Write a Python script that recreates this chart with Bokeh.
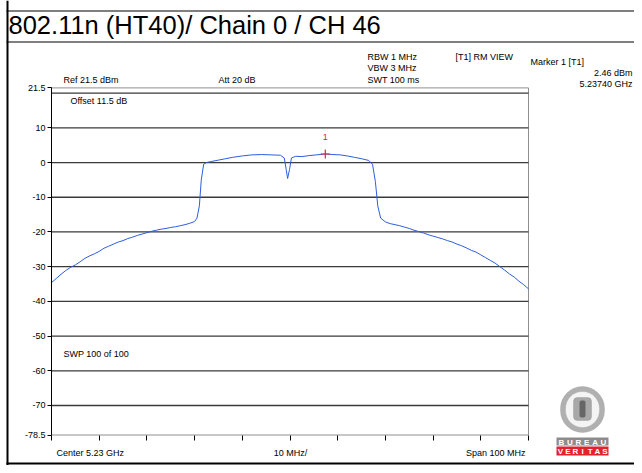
from bokeh.plotting import figure
from bokeh.models import Label, BoxAnnotation, Range1d, FixedTicker
from bokeh.core.properties import value
from bokeh.embed import file_html
from bokeh.resources import INLINE

# ---------------- data ----------------
freq_mhz_offset = [0, 1, 2, 3, 4, 5, 6, 7, 8, 9, 10, 11, 12, 13, 14, 15, 16, 17, 18, 19, 20,
                   21, 22, 23, 24, 25, 26, 27, 28, 29, 30, 30.5, 31.0, 31.4, 31.9, 32.5, 33.5,
                   35, 36.5, 38, 40, 42, 44, 46, 48, 48.8, 49.2, 49.5, 49.9, 50.3, 51.2, 52.5,
                   54, 55.5, 57.4, 59, 60.5, 62, 63.5, 65, 66.5, 67.3, 67.9, 68.4, 69.0, 70,
                   71, 72, 73, 74, 75, 76, 77, 78, 79, 80, 81, 82, 83, 84, 85, 86, 87, 88, 89,
                   90, 91, 92, 93, 94, 95, 96, 97, 98, 99, 100]
level_dbm = [-34.6, -33.4, -32.2, -31.1, -30.2, -29.5, -28.6, -27.6, -26.9, -26.3, -25.6, -24.7,
             -24.1, -23.5, -22.9, -22.5, -21.9, -21.5, -21.0, -20.6, -20.2, -19.8, -19.5, -19.2,
             -19.0, -18.7, -18.5, -18.2, -17.9, -17.5, -17.0, -16.0, -12.5, -5.0, -0.5, 0.0,
             0.3, 0.7, 1.1, 1.5, 1.9, 2.2, 2.3, 2.2, 2.1, 1.3, -2.0, -4.6, -2.0, 1.3, 1.8, 1.7,
             2.0, 2.2, 2.46, 2.3, 2.2, 1.9, 1.5, 1.1, 0.6, -0.5, -5.5, -12.5, -16.0, -17.1,
             -17.6, -17.9, -18.2, -18.6, -19.0, -19.5, -19.9, -20.3, -20.8, -21.2, -21.6, -22.0,
             -22.5, -22.9, -23.5, -24.0, -24.6, -25.3, -25.8, -26.6, -27.4, -28.2, -29.0, -30.0,
             -31.0, -32.1, -33.0, -34.2, -35.2, -36.4]
start_ghz = 5.18
stop_ghz = 5.28
freq_ghz = [start_ghz + f / 1000.0 for f in freq_mhz_offset]

marker_freq_ghz = [5.2374]
marker_level = [2.46]
marker_name = ["1"]

ref_level = 21.5
bottom_level = -78.5
y_ticks = [21.5, 10, 0, -10, -20, -30, -40, -50, -60, -70, -78.5]
y_tick_labels = ["21.5", "10", "0", "-10", "-20", "-30", "-40", "-50", "-60", "-70", "-78.5"]
y_grid = [20, 10, 0, -10, -20, -30, -40, -50, -60, -70]
x_ticks = [5.18, 5.19, 5.20, 5.21, 5.22, 5.23, 5.24, 5.25, 5.26, 5.27, 5.28]

title_text = "802.11n (HT40)/ Chain 0 / CH 46"

# ---------------- layout (pixels) ----------------
W, H = 634, 465
PL, PR, PT, PB = 51, 528, 87.4, 434.5   # plot area in canvas pixels
FONT = "Liberation Sans"

gx = (stop_ghz - start_ghz) / (PR - PL)
gy = (ref_level - bottom_level) / (PB - PT)
x_range = Range1d(start_ghz - PL * gx, stop_ghz + (W - PR) * gx)
y_range = Range1d(bottom_level - (H - PB) * gy, ref_level + PT * gy)

p = figure(width=W, height=H, output_backend="svg", toolbar_location=None,
           x_range=x_range, y_range=y_range,
           min_border_left=0, min_border_right=0, min_border_top=0, min_border_bottom=0)
p.background_fill_color = "white"
p.border_fill_color = "white"
p.outline_line_color = None
p.xgrid.visible = False
p.ygrid.visible = False

# y axis
p.yaxis.fixed_location = start_ghz
p.yaxis.bounds = (bottom_level, ref_level)
p.yaxis.ticker = FixedTicker(ticks=y_ticks)
p.yaxis.major_label_overrides = {t: s for t, s in zip(y_ticks, y_tick_labels)}
p.yaxis.axis_line_color = "black"
p.yaxis.major_tick_line_color = "black"
p.yaxis.major_tick_in = 0
p.yaxis.major_tick_out = 4
p.yaxis.minor_tick_line_color = None
p.yaxis.major_label_text_font = FONT
p.yaxis.major_label_text_font_size = "9px"
p.yaxis.major_label_text_color = "black"
p.yaxis.major_label_standoff = 2

# x axis
p.xaxis.fixed_location = bottom_level
p.xaxis.bounds = (start_ghz, stop_ghz)
p.xaxis.ticker = FixedTicker(ticks=x_ticks)
p.xaxis.axis_line_color = None
p.xaxis.major_tick_line_color = "black"
p.xaxis.major_tick_in = 0
p.xaxis.major_tick_out = 5
p.xaxis.minor_tick_line_color = None
p.xaxis.major_label_text_color = None
p.xaxis.major_label_text_font_size = "1px"

# plot area border and grid lines
p.quad(left=[start_ghz], right=[stop_ghz], bottom=[bottom_level], top=[ref_level],
       fill_color=None, line_color="#8f8f8f", line_width=1)
p.segment(x0=[start_ghz] * len(y_grid), x1=[stop_ghz] * len(y_grid), y0=y_grid, y1=y_grid,
          line_color="#3a3a3a", line_width=1.3)

# trace and marker
p.line(freq_ghz, level_dbm, line_color="#2f5ce0", line_width=1)
p.scatter(marker_freq_ghz, marker_level, marker="cross", size=9, line_color="#e8202a", line_width=1.2)
p.text(marker_freq_ghz, marker_level, text=marker_name, text_color="#e8202a",
       text_font=value(FONT), text_font_size="9px", text_align="center",
       text_baseline="bottom", y_offset=-14)


def lab(text, x, y, size="9px", align="left", color="black", font=FONT, style="normal"):
    p.add_layout(Label(x=x, y=y, x_units="canvas", y_units="canvas", text=text,
                       text_font=font, text_font_size=size, text_align=align,
                       text_baseline="middle", text_color=color, text_font_style=style,
                       level="overlay"))


def box(l, r, t, b, fill=None, line=None, lw=1, radius=0):
    p.add_layout(BoxAnnotation(left=l, right=r, top=t, bottom=b,
                               left_units="canvas", right_units="canvas",
                               top_units="canvas", bottom_units="canvas",
                               fill_color=fill, fill_alpha=1.0 if fill else 0,
                               line_color=line, line_width=lw, border_radius=radius,
                               level="annotation"))

# outer frame lines
box(6, 8, 0, 465, fill="black")
box(6, 634, 462, 464, fill="black")
box(6, 634, 10, 11, fill="black")
box(6, 634, 41, 42, fill="black")

lab(title_text, 8, 24.5, size="25.5px")

lab("Ref 21.5 dBm", 63, 79)
lab("Att  20 dB", 218, 79)
lab("RBW 1 MHz", 367, 56)
lab("VBW 3 MHz", 367, 67)
lab("SWT 100 ms", 367, 79)
lab("[T1] RM VIEW", 455, 56)
lab("Marker 1 [T1]", 530, 61)
lab("2.46 dBm", 632, 72, align="right")
lab("5.23740 GHz", 632, 83, align="right")
lab("Offset 11.5 dB", 70, 100)
lab("SWP 100 of 100", 63, 353)
lab("Center 5.23 GHz", 56, 452)
lab("10 MHz/", 290, 452, align="center")
lab("Span 100 MHz", 525, 452, align="right")

# logo
box(560, 604, 386, 432, fill="#b0b0b0", line="#8f8f8f", lw=1, radius=22)
box(565, 599, 391, 427, fill="#f4f4f4", line="#9a9a9a", lw=1, radius=17)
box(573, 591, 397, 420, fill="#a8a8a8", line="#808080", lw=1, radius=4)
box(579, 585, 400, 417, fill="#666666", radius=2)
box(556, 608, 437, 445, fill="#8c8c8c")
box(556, 608, 446, 455, fill="#e2232f")
for i, ch in enumerate("BUREAU"):
    lab(ch, 561 + i * 8.4, 441.5, size="8px", align="center", color="white", style="bold")
for i, ch in enumerate("VERITAS"):
    lab(ch, 560 + i * 7.4, 451, size="8px", align="center", color="white", style="bold")

open("out.html", "w").write(file_html(p, INLINE))
